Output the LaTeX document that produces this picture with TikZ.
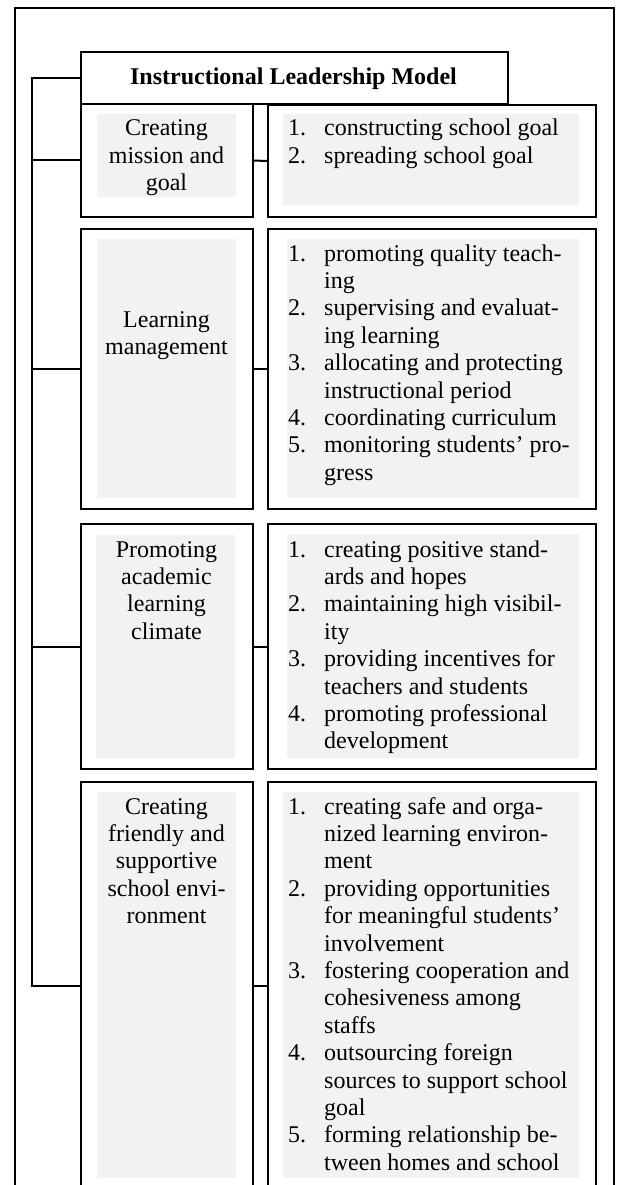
\documentclass[tikz,border=0pt]{standalone}
\usepackage{fontspec}
\setmainfont{Liberation Serif}
\definecolor{shadegray}{HTML}{F2F2F2}
\begin{document}
\begin{tikzpicture}[x=1pt,y=-1pt,
  frame/.style={draw,line width=2pt},
  box/.style={draw,line width=2pt,inner sep=0pt,anchor=north west},
  shade/.style={fill=shadegray,inner sep=0pt,anchor=north west,minimum width=#1},
  lbl/.style={anchor=base,inner sep=0pt,font=\fontsize{24}{27.4}\selectfont},
  lst/.style={anchor=base west,inner sep=0pt,font=\fontsize{24}{27.4}\selectfont},
  conn/.style={line width=2pt,line join=miter}]
\path[use as bounding box] (0,0) rectangle (617,1185);
\clip (0,0) rectangle (617,1185);
% outer frame
\draw[frame] (15,1200) -- (15,8) -- (614,8) -- (614,1200);
% title
\node[box,minimum width=427pt,minimum height=52pt] (t) at (80,51) {};
\node[lbl,font=\fontsize{24}{27.4}\selectfont\bfseries] (tt) at (293.5,85) {Instructional Leadership Model};
% boxes
\node[box,minimum width=172pt,minimum height=113pt] (l1) at (80,103) {};
\node[box,minimum width=328pt,minimum height=112pt] (r1) at (267,104) {};
\node[box,minimum width=172pt,minimum height=280pt] (l2) at (80,228) {};
\node[box,minimum width=328pt,minimum height=280pt] (r2) at (267,228) {};
\node[box,minimum width=172pt,minimum height=245pt] (l3) at (80,523) {};
\node[box,minimum width=328pt,minimum height=245pt] (r3) at (267,523) {};
\node[box,minimum width=172pt,minimum height=408pt] (l4) at (80,781) {};
\node[box,minimum width=328pt,minimum height=408pt] (r4) at (267,781) {};
% shaded areas
\node[shade=139pt,minimum height=83pt] (g1l) at (97,114) {};
\node[shade=296pt,minimum height=91pt] (g1r) at (283,114) {};
\node[shade=139pt,minimum height=259pt] (g2l) at (97,239) {};
\node[shade=292pt,minimum height=259pt] (g2r) at (287,239) {};
\node[shade=139pt,minimum height=223pt] (g3l) at (96,535) {};
\node[shade=292pt,minimum height=224pt] (g3r) at (287,534) {};
\node[shade=139pt,minimum height=386pt] (g4l) at (97,792) {};
\node[shade=296pt,minimum height=386pt] (g4r) at (283,792) {};
% connectors
\coordinate (sx) at (32,0);
\draw[conn] (t.west) -| (sx |- l4.west) -- (l4.west);
\draw[conn] (sx |- l1.west) -- (l1.west);
\draw[conn] (sx |- l2.west) -- (l2.west);
\draw[conn] (sx |- l3.west) -- (l3.west);
\draw[conn] (l1.east) -- (r1.west);
\draw[conn] (l2.east) -- (r2.west);
\draw[conn] (l3.east) -- (r3.west);
\draw[conn] (l4.east) -- (r4.west);
% left texts
\node[lbl] (a1) at (166.5,136) {\begin{tabular}[t]{@{}c@{}}Creating\\mission and\\goal\end{tabular}};
\node[lbl] (a2) at (166.5,327) {\begin{tabular}[t]{@{}c@{}}Learning\\management\end{tabular}};
\node[lbl] (a3) at (166.5,557) {\begin{tabular}[t]{@{}c@{}}Promoting\\academic\\learning\\climate\end{tabular}};
\node[lbl] (a4) at (166.5,814) {\begin{tabular}[t]{@{}c@{}}Creating\\friendly and\\supportive\\school envi-\\ronment\end{tabular}};
% right lists
\node[lst] (b1) at (288,136) {\begin{tabular}[t]{@{}p{36pt}@{}l@{}}
1.&constructing school goal\\
2.&spreading school goal\end{tabular}};
\node[lst] (b2) at (288,261) {\begin{tabular}[t]{@{}p{36pt}@{}l@{}}
1.&promoting quality teach-\\
&ing\\
2.&supervising and evaluat-\\
&ing learning\\
3.&allocating and protecting\\
&instructional period\\
4.&coordinating curriculum\\
5.&monitoring students’ pro-\\
&gress\end{tabular}};
\node[lst] (b3) at (288,557) {\begin{tabular}[t]{@{}p{36pt}@{}l@{}}
1.&creating positive stand-\\
&ards and hopes\\
2.&maintaining high visibil-\\
&ity\\
3.&providing incentives for\\
&teachers and students\\
4.&promoting professional\\
&development\end{tabular}};
\node[lst] (b4) at (288,814) {\begin{tabular}[t]{@{}p{36pt}@{}l@{}}
1.&creating safe and orga-\\
&nized learning environ-\\
&ment\\
2.&providing opportunities\\
&for meaningful students’\\
&involvement\\
3.&fostering cooperation and\\
&cohesiveness among\\
&staffs\\
4.&outsourcing foreign\\
&sources to support school\\
&goal\\
5.&forming relationship be-\\
&tween homes and school\end{tabular}};
\end{tikzpicture}
\end{document}
